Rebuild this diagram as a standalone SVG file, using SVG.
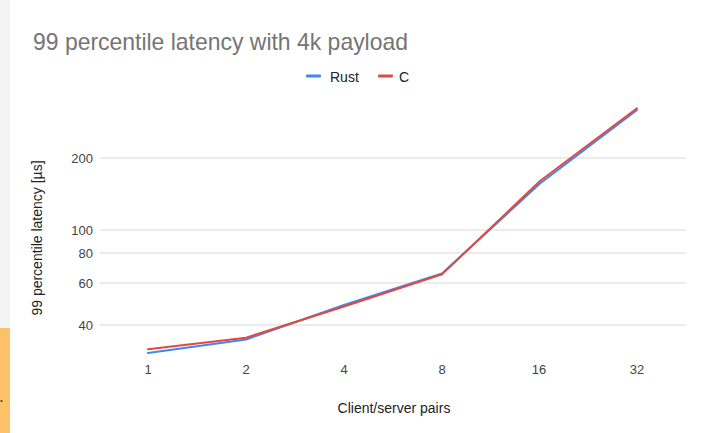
<svg xmlns="http://www.w3.org/2000/svg" width="702" height="433" viewBox="0 0 702 433">
  <style>
    text { font-family: "Liberation Sans", Arial, sans-serif; }
    .title { font-size: 24px; fill: #757575; }
    .legend { font-size: 14px; fill: #222222; }
    .tick { font-size: 13px; fill: #444444; }
    .axis { font-size: 14px; fill: #222222; }
    .grid { stroke: #d9d9d9; stroke-width: 1; }
    .series { fill: none; stroke-width: 2; stroke-linejoin: round; stroke-linecap: round; }
    .rust { stroke: #4285f4; }
    .c { stroke: #e04a3e; }
  </style>

  <!-- page background and left margin strip -->
  <rect x="0" y="0" width="702" height="433" fill="#ffffff"/>
  <rect x="0" y="0" width="10" height="328" fill="#f3f3f3"/>
  <rect x="0" y="328" width="10" height="105" fill="#fdc168"/>
  <circle cx="1.5" cy="401" r="1" fill="#333333"/>

  <!-- title -->
  <g id="title">
    <text class="title" x="33" y="50" textLength="375" lengthAdjust="spacingAndGlyphs">99 percentile latency with 4k payload</text>
  </g>

  <!-- legend -->
  <g id="legend">
    <rect x="306" y="74.5" width="15" height="3" rx="1" fill="#4285f4"/>
    <text class="legend" x="330" y="82">Rust</text>
    <rect x="378" y="74.5" width="15" height="3" rx="1" fill="#e04a3e"/>
    <text class="legend" x="399" y="82">C</text>
  </g>

  <!-- gridlines (log scale) -->
  <g id="gridlines">
    <line class="grid" x1="100" y1="158" x2="686" y2="158"/>
    <line class="grid" x1="100" y1="230" x2="686" y2="230"/>
    <line class="grid" x1="100" y1="253" x2="686" y2="253"/>
    <line class="grid" x1="100" y1="283" x2="686" y2="283"/>
    <line class="grid" x1="100" y1="325" x2="686" y2="325"/>
  </g>

  <!-- y axis -->
  <g id="y-axis">
    <text class="tick" x="93" y="163" text-anchor="end">200</text>
    <text class="tick" x="93" y="235" text-anchor="end">100</text>
    <text class="tick" x="93" y="258" text-anchor="end">80</text>
    <text class="tick" x="93" y="288" text-anchor="end">60</text>
    <text class="tick" x="93" y="330" text-anchor="end">40</text>
    <text class="axis" transform="translate(42,238) rotate(-90)" text-anchor="middle">99 percentile latency [µs]</text>
  </g>

  <!-- x axis -->
  <g id="x-axis">
    <text class="tick" x="148" y="374" text-anchor="middle">1</text>
    <text class="tick" x="246" y="374" text-anchor="middle">2</text>
    <text class="tick" x="344" y="374" text-anchor="middle">4</text>
    <text class="tick" x="442" y="374" text-anchor="middle">8</text>
    <text class="tick" x="539" y="374" text-anchor="middle">16</text>
    <text class="tick" x="637" y="374" text-anchor="middle">32</text>
    <text class="axis" x="394" y="413" text-anchor="middle">Client/server pairs</text>
  </g>

  <!-- data series -->
  <g id="series">
    <polyline id="rust" class="series rust" points="148,353 246,339.5 344,305 442,273.5 540,183.5 637,110"/>
    <polyline id="c" class="series c" points="148,349.3 246,337.7 344,306.5 442,274.3 540,181 637,108.3"/>
  </g>
</svg>
